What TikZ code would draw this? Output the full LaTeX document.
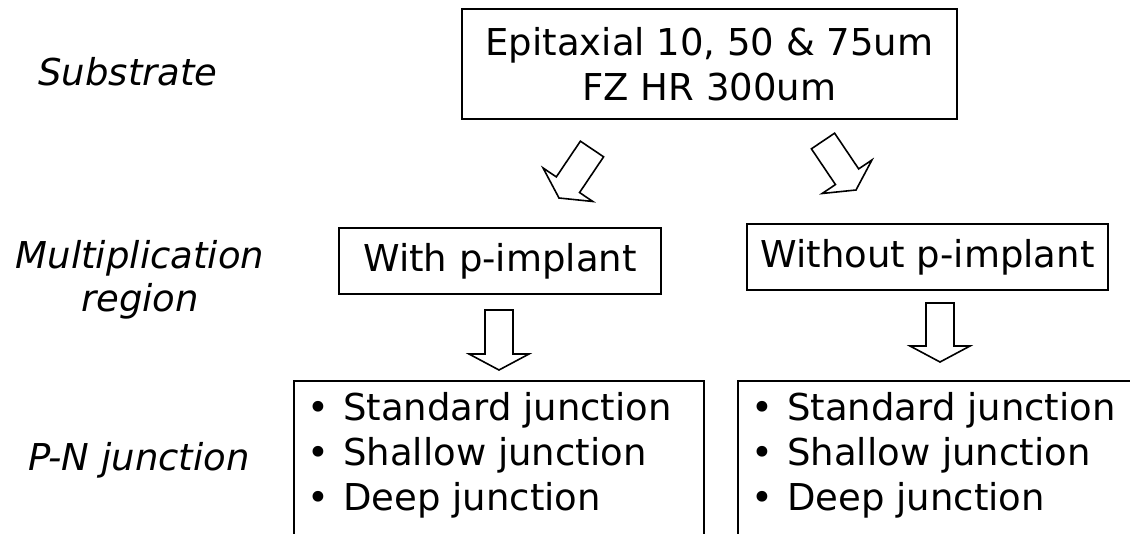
\documentclass[tikz,border=0pt]{standalone}
\usepackage{fontspec}
\setmainfont{DejaVu Sans}
\usepackage{tikz}
\usetikzlibrary{calc}

\newcommand{\bigfont}{\fontsize{37}{45}\selectfont}
\newcommand{\fatarrow}[2]{%
  \coordinate (hb) at ($(#2)!16pt!(#1)$);
  \draw[fatarr] ($(#1)!14pt!90:(#2)$) -- ($(hb)!14pt!90:(#2)$)
    -- ($(hb)!30pt!90:(#2)$) -- (#2) -- ($(hb)!30pt!-90:(#2)$)
    -- ($(hb)!14pt!-90:(#2)$) -- ($(#1)!14pt!-90:(#2)$) -- cycle;
}
\tikzset{
  box/.style={draw, line width=2pt, inner sep=0pt, font=\bigfont, align=center},
  rowlabel/.style={font=\fontsize{37}{43}\selectfont\itshape, align=center, inner sep=0pt},
  item/.style={font=\bigfont, inner sep=0pt},
  fatarr/.style={draw, line width=1.6pt, line join=miter, fill=white}
}

\begin{document}
\begin{tikzpicture}[x=1pt, y=-1pt]
            \useasboundingbox (0,0) rectangle (1130,533);
            \clip (0,0) rectangle (1130,533);
            % row labels
            \node[rowlabel, anchor=base] (lsub) at (128,85) {Substrate};
            \node[rowlabel] (lmult) at (140,280) {Multiplication\\region};
            \node[rowlabel, anchor=base] (lpn) at (139,470) {P-N junction};
            % boxes
            \node[box, minimum width=495, minimum height=110] (epi) at (709.5,64)
                {Epitaxial 10, 50 \& 75um\\FZ HR 300um};
            \node[box, minimum width=322, minimum height=66] (withp) at (500,261) {With p-implant};
            \node[box, minimum width=361, minimum height=66] (withoutp) at (927.5,257) {Without p-implant};
            \node[box, anchor=north west, minimum width=410, minimum height=250] (jleft) at (293,380) {};
            \node[box, anchor=north west, minimum width=500, minimum height=250] (jright) at (737,380) {};
            \foreach \txt [count=\i] in {Standard junction, Shallow junction, Deep junction} {
                \node[item, anchor=base west] (jl\i) at ($(jleft.north west)+(14,{40+45*(\i-1)})$)
                    {\makebox[36pt][l]{\textbullet}\txt};
                \node[item, anchor=base west] (jr\i) at ($(jright.north west)+(14,{40+45*(\i-1)})$)
                    {\makebox[36pt][l]{\textbullet}\txt};
            };
            % block arrows
            \coordinate (tl1) at (592,149);
            \coordinate (tp1) at (559,198);
            \coordinate (tl2) at (823,141);
            \coordinate (tp2) at (856,190);
            \coordinate (tl3) at (499,310);
            \coordinate (tp3) at (499,370);
            \coordinate (tl4) at (940,303);
            \coordinate (tp4) at (940,362);
            \foreach \k in {1,...,4} {
                \fatarrow{tl\k}{tp\k}
            };
        \end{tikzpicture}
\end{document}
